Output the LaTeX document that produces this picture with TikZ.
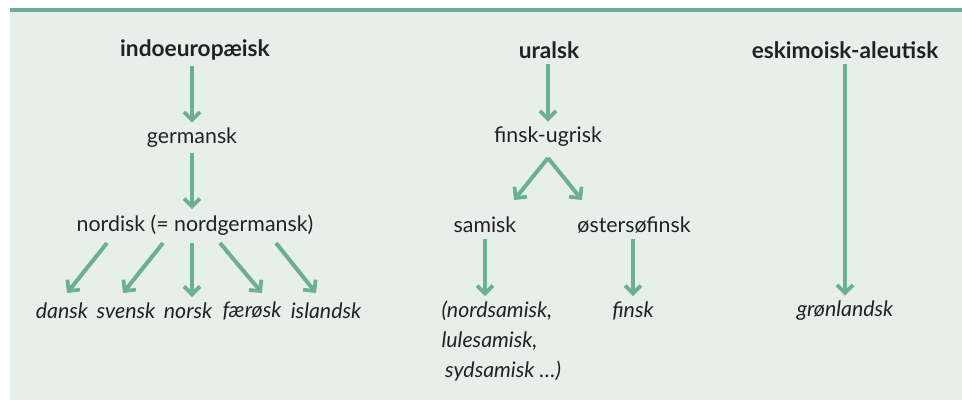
\documentclass[tikz,border=0pt]{standalone}
\usepackage{fontspec}
\setmainfont{Lato}
\usepackage{xcolor}
\usetikzlibrary{arrows.meta}
\definecolor{panelbg}{HTML}{E7EFEB}
\definecolor{arrowgreen}{HTML}{6DAE96}
\definecolor{inkgray}{HTML}{222222}

\begin{document}
\begin{tikzpicture}[x=0.75pt,y=-0.75pt,
    lang/.style={text=inkgray,font=\fontsize{16}{19}\selectfont,inner sep=1pt},
    family/.style={lang,font=\fontsize{17}{20}\selectfont\bfseries},
    leaf/.style={lang,font=\fontsize{16}{19}\selectfont\itshape},
    branch/.style={draw=arrowgreen,line width=3pt,shorten <=3pt,shorten >=3pt,
        -{Straight Barb[length=6pt,width=12pt,line width=2.8pt]}}]
    \useasboundingbox (0,0) rectangle (962,400);
    \fill[white] (0,0) rectangle (962,400);
    \fill[panelbg] (10,10) rectangle (962,400);
    \draw[arrowgreen,line width=2.4pt] (10,10)--(962,10);

    % indoeuropaeisk
    \node[family] (indo) at (195,50) {indoeuropæisk};
    \node[lang] (germ) at (192,138) {germansk};
    \node[lang] (nord) at (195,225) {nordisk (= nordgermansk)};
    \node[leaf] (dansk) at (62,311) {dansk};
    \node[leaf] (svensk) at (126,311) {svensk};
    \node[leaf] (norsk) at (188,311) {norsk};
    \node[leaf] (faer) at (252,311) {færøsk};
    \node[leaf] (isl) at (326,311) {islandsk};
    \coordinate (n1) at (107,243);
    \coordinate (n2) at (163,243);
    \coordinate (n3) at (192,243);
    \coordinate (n4) at (220,243);
    \coordinate (n5) at (276,243);
    \coordinate (d1) at (67,293);
    \coordinate (d2) at (123,293);
    \coordinate (d3) at (192,297);
    \coordinate (d4) at (262,293);
    \coordinate (d5) at (316,293);
    \draw[branch] (indo.south -| germ) -- (germ.north);
    \draw[branch] (germ.south) -- (germ.south |- nord.north);
    \foreach \i in {1,...,5}
        \draw[branch,shorten <=0pt,shorten >=0pt] (n\i)--(d\i);

    % uralsk
    \node[family] (ural) at (549,50) {uralsk};
    \node[lang] (fiug) at (548,137) {finsk-ugrisk};
    \node[lang] (sami) at (485,225) {samisk};
    \node[lang] (oest) at (634,225) {østersøfinsk};
    \node[leaf,align=left,anchor=north west,font=\fontsize{16}{22.5}\selectfont\itshape] (samil) at (440,299) {(nordsamisk,\\lulesamisk,\\\,sydsamisk \dots)};
    \node[leaf] (finsk) at (633,311) {finsk};
    \coordinate (apex) at (548,158);
    \coordinate (sl) at (514,200);
    \coordinate (sr) at (582,200);
    \draw[branch] (ural.south -| fiug) -- (fiug.north);
    \draw[branch,shorten <=0pt,shorten >=0pt] (apex)--(sl);
    \draw[branch,shorten <=0pt,shorten >=0pt] (apex)--(sr);
    \draw[branch] (sami.south) -- (sami.south |- finsk.north);
    \draw[branch] (oest.south -| finsk) -- (finsk.north);

    % eskimoisk-aleutisk
    \node[family] (eski) at (845,50) {eskimoisk-aleutisk};
    \node[leaf] (groen) at (845,311) {grønlandsk};
    \draw[branch] (eski.south -| groen) -- (groen.north);
\end{tikzpicture}
\end{document}
